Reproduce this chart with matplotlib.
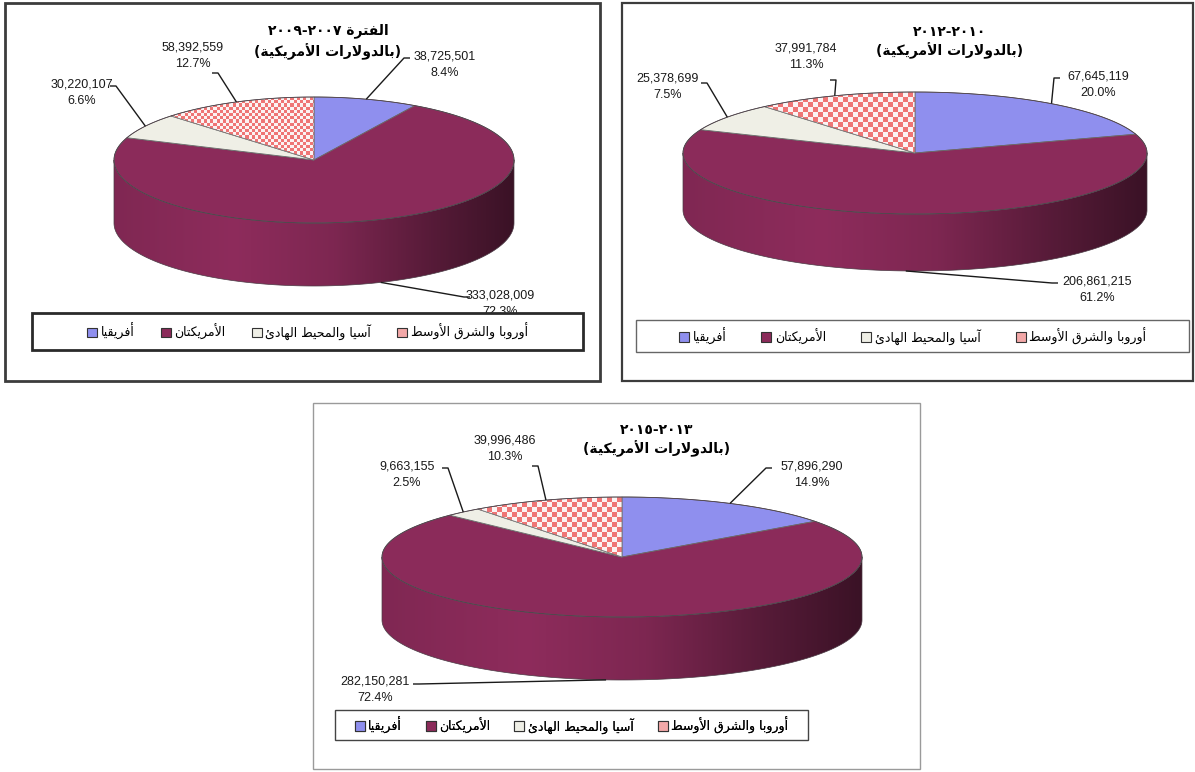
import re
import numpy as np
import matplotlib
matplotlib.use("Agg")
import matplotlib.pyplot as plt
from matplotlib.patches import Polygon, Rectangle, Patch
from matplotlib.colors import to_rgb

# regions, in legend order
regions = ["أفريقيا", "الأمريكتان", "آسيا والمحيط الهادئ", "أوروبا والشرق الأوسط"]
region_colors = ["#8f8fee", "#8b2b5a", "#efefe6", "#ffffff"]
unit_note = "(بالدولارات الأمريكية)"

title_0709 = "الفترة ٢٠٠٧-٢٠٠٩"
values_0709 = [38725501, 333028009, 30220107, 58392559]
pcts_0709 = [8.4, 72.3, 6.6, 12.7]

title_1012 = "٢٠١٠-٢٠١٢"
values_1012 = [67645119, 206861215, 25378699, 37991784]
pcts_1012 = [20.0, 61.2, 7.5, 11.3]

title_1315 = "٢٠١٣-٢٠١٥"
values_1315 = [57896290, 282150281, 9663155, 39996486]
pcts_1315 = [14.9, 72.4, 2.5, 10.3]

# --- minimal arabic shaping (presentation forms B) ---
FORMS = {}
for ch, base in zip("آأؤإاةدذرزوى",
                    [0xFE81, 0xFE83, 0xFE85, 0xFE87, 0xFE8D, 0xFE93, 0xFEA9,
                     0xFEAB, 0xFEAD, 0xFEAF, 0xFEED, 0xFEEF]):
    FORMS[ch] = (base, base + 1, None, None)
for ch, base in zip("ئبتثجحخسشصضطظعغفقكلمنهي",
                    [0xFE89, 0xFE8F, 0xFE95, 0xFE99, 0xFE9D, 0xFEA1, 0xFEA5,
                     0xFEB1, 0xFEB5, 0xFEB9, 0xFEBD, 0xFEC1, 0xFEC5, 0xFEC9,
                     0xFECD, 0xFED1, 0xFED5, 0xFED9, 0xFEDD, 0xFEE1, 0xFEE5,
                     0xFEE9, 0xFEF1]):
    FORMS[ch] = (base, base + 1, base + 2, base + 3)
LAM_ALEF = {"آ": 0xFEF5, "أ": 0xFEF7, "إ": 0xFEF9, "ا": 0xFEFB}


def shape(s):
    out, i, prev = [], 0, False
    while i < len(s):
        c = s[i]
        if c not in FORMS:
            out.append(c)
            prev = False
            i += 1
            continue
        if c == "ل" and i + 1 < len(s) and s[i + 1] in LAM_ALEF:
            out.append(chr(LAM_ALEF[s[i + 1]] + (1 if prev else 0)))
            prev = False
            i += 2
            continue
        iso, fin, ini, med = FORMS[c]
        dual = ini is not None
        nxt = i + 1 < len(s) and s[i + 1] in FORMS
        if prev and nxt and dual:
            g = med
        elif prev:
            g = fin
        elif nxt and dual:
            g = ini
        else:
            g = iso
        out.append(chr(g))
        prev = dual
        i += 1
    return "".join(out)


def ar(s):
    t = shape(s)[::-1].translate(str.maketrans("()", ")("))
    return re.sub(r"[0-9\u0660-\u0669]+", lambda m: m.group()[::-1], t)


def ell(cx, cy, a, b, t):
    r = np.radians(t)
    return cx + a * np.cos(r), cy - b * np.sin(r)


def side_gradient(color, n=256):
    x = np.linspace(0, 1, n)
    prof = np.interp(x, [0, 0.3, 0.55, 0.8, 1.0], [0.92, 1.02, 0.9, 0.62, 0.42])
    rgb = np.array(to_rgb(color))
    return np.clip(prof[:, None] * rgb[None, :], 0, 1)[None, :, :]


def draw_pie(ax, values, cx, cy, a, b, depth, cell):
    vals = np.array(values, dtype=float)
    frac = vals / vals.sum()
    edges = 90 - 360 * np.concatenate([[0], np.cumsum(frac)])
    # side wall (front half only)
    for i in range(len(vals)):
        t0, t1 = edges[i], edges[i + 1]
        lo, hi = max(t1, -180), min(t0, 0)
        if lo >= hi:
            continue
        t = np.linspace(hi, lo, 200)
        xs, ys = ell(cx, cy, a, b, t)
        pts = np.vstack([np.column_stack([xs, ys]),
                         np.column_stack([xs[::-1], ys[::-1] + depth])])
        poly = Polygon(pts, closed=True, facecolor="none",
                       edgecolor="#4a3a44", lw=0.5, zorder=3)
        ax.add_patch(poly)
        im = ax.imshow(side_gradient(region_colors[i]), aspect="auto",
                       extent=(cx - a, cx + a, cy + b + depth, cy - b),
                       zorder=2, interpolation="bilinear")
        im.set_clip_path(poly)
    # top face
    for i in range(len(vals)):
        t = np.linspace(edges[i], edges[i + 1], 200)
        xs, ys = ell(cx, cy, a, b, t)
        pts = np.vstack([[cx, cy], np.column_stack([xs, ys])])
        if i == 3:
            poly = Polygon(pts, closed=True, facecolor="none",
                           edgecolor="#777777", lw=0.6, zorder=5)
            ax.add_patch(poly)
            nx, ny = int(2 * a / cell) + 1, int(2 * b / cell) + 1
            jj, ii = np.meshgrid(np.arange(nx), np.arange(ny))
            chk = ((ii + jj) % 2)[:, :, None]
            img = np.where(chk == 1, np.array(to_rgb("#ef7575")),
                           np.array(to_rgb("#fbf3f3")))
            im = ax.imshow(img, aspect="auto", interpolation="nearest",
                           extent=(cx - a, cx - a + nx * cell,
                                   cy - b + ny * cell, cy - b), zorder=4)
            im.set_clip_path(poly)
        else:
            ax.add_patch(Polygon(pts, closed=True, facecolor=region_colors[i],
                                 edgecolor="#6a6a6a", lw=0.6, zorder=4))
    # outline of the top ellipse
    t = np.linspace(0, 360, 400)
    xs, ys = ell(cx, cy, a, b, t)
    ax.plot(xs, ys, color="#4a3a44", lw=0.5, zorder=6)
    return edges


def anchor(edges, i, cx, cy, a, b, depth):
    tm = 0.5 * (edges[i] + edges[i + 1])
    x, y = ell(cx, cy, a, b, tm)
    if np.sin(np.radians(tm)) < 0:
        y = y + depth
    return x, y


fig = plt.figure(figsize=(11.95, 7.72), dpi=100)
ax = fig.add_axes([0, 0, 1, 1])
ax.axis("off")

panels = [
    dict(title=title_0709, values=values_0709, pcts=pcts_0709,
         box=(5, 3, 600, 381), box_c="#3c3c3c", box_lw=2.0,
         title_xy=(328, 31), note_y=52,
         pie=(314, 160, 200, 63, 63), cell=3.2,
         labels=[(445, 65), (500, 304), (82, 93), (193, 56)],
         attach=[(410, 58), (470, 297), (110, 86), (212, 73)],
         legend=(32, 313, 583, 350), leg_c="#2a2a2a", leg_lw=2.0, colsp=2.1),
    dict(title=title_1012, values=values_1012, pcts=pcts_1012,
         box=(622, 3, 1193, 381), box_c="#3c3c3c", box_lw=1.6,
         title_xy=(950, 32), note_y=51,
         pie=(915, 153, 232, 61, 57), cell=5.0,
         labels=[(1098, 85), (1097, 290), (668, 87), (806, 57)],
         attach=[(1060, 78), (1058, 283), (701, 83), (830, 80)],
         legend=(636, 320, 1189, 352), leg_c="#666666", leg_lw=1.0, colsp=2.8),
    dict(title=title_1315, values=values_1315, pcts=pcts_1315,
         box=(313, 403, 920, 769), box_c="#9a9a9a", box_lw=1.0,
         title_xy=(657, 430), note_y=449,
         pie=(622, 557, 240, 60, 63), cell=5.0,
         labels=[(812, 475), (375, 690), (407, 475), (505, 449)],
         attach=[(772, 468), (413, 684), (442, 468), (532, 466)],
         legend=(335, 710, 808, 740), leg_c="#444444", leg_lw=1.0, colsp=1.9),
]

for p in panels:
    x0, y0, x1, y1 = p["box"]
    ax.add_patch(Rectangle((x0, y0), x1 - x0, y1 - y0, facecolor="white",
                           edgecolor=p["box_c"], lw=p["box_lw"], zorder=0))
    cx, cy, a, b, depth = p["pie"]
    edges = draw_pie(ax, p["values"], cx, cy, a, b, depth, p["cell"])

    tx, ty = p["title_xy"]
    ax.text(tx, ty, ar(p["title"]), ha="center", va="center", fontsize=10,
            fontweight="bold", family=["DejaVu Sans"], zorder=8)
    ax.text(tx, p["note_y"], ar(unit_note), ha="center", va="center",
            fontsize=10, fontweight="bold", family=["DejaVu Sans"], zorder=8)

    for i, (v, pc) in enumerate(zip(p["values"], p["pcts"])):
        lx, ly = p["labels"][i]
        ax.text(lx, ly, f"{v:,}\n{pc:.1f}%", ha="center", va="center",
                fontsize=9, linespacing=1.45, family="Liberation Sans",
                color="#1a1a1a", zorder=8)
        axx, axy = anchor(edges, i, cx, cy, a, b, depth)
        sx, sy = p["attach"][i]
        ex = sx + (6 if axx > sx else -6)
        ax.plot([sx, ex, axx], [sy, sy, axy], color="#1a1a1a", lw=1.0,
                zorder=7, solid_capstyle="butt")

    lx0, ly0, lx1, ly1 = p["legend"]
    ax.add_patch(Rectangle((lx0, ly0), lx1 - lx0, ly1 - ly0, facecolor="white",
                           edgecolor=p["leg_c"], lw=p["leg_lw"], zorder=9))
    handles = [Patch(facecolor=c, edgecolor="#333333", lw=0.8)
               for c in region_colors[:3]]
    handles.append(Patch(facecolor="#f3a8a8", edgecolor="#333333", lw=0.8))
    leg = ax.legend(handles, [ar(r) for r in regions], ncol=4, loc="center",
                    bbox_to_anchor=((lx0 + lx1) / 2, (ly0 + ly1) / 2),
                    bbox_transform=ax.transData, frameon=False,
                    handlelength=0.8, handleheight=0.8, handletextpad=0.3,
                    columnspacing=p["colsp"],
                    prop={"family": "DejaVu Sans", "size": 9})
    leg.set_zorder(10)
    ax.add_artist(leg)

ax.set_xlim(0, 1195)
ax.set_ylim(772, 0)
fig.savefig("out.png", dpi=100)
